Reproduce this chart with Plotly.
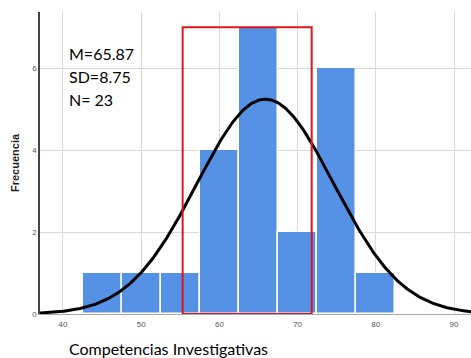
import numpy as np
import plotly.graph_objects as go

# Histogram of scores (bin width 5) with fitted normal curve
bin_centers = [45, 50, 55, 60, 65, 70, 75, 80]
frequencies = [1, 1, 1, 4, 7, 2, 6, 1]
bin_width = 5
mean, sd, n = 65.87, 8.75, 23
x_ticks = [40, 50, 60, 70, 80, 90]
y_ticks = [0, 2, 4, 6]
highlight_range = [55.3, 71.8]

W, H = 471, 358
ml, mr, mt, mb = 40, 0, 12, 44
x_range = [37.06, 92.17]
y_range = [0, 7.37]

xs = np.linspace(x_range[0], x_range[1], 400)
ys = n * bin_width / (sd * np.sqrt(2 * np.pi)) * np.exp(-0.5 * ((xs - mean) / sd) ** 2)

fig = go.Figure()
fig.add_trace(go.Bar(
    x=bin_centers, y=frequencies, width=[bin_width] * len(bin_centers),
    marker=dict(color="#5591e4", line=dict(color="white", width=1.5)),
    hoverinfo="skip",
))
fig.add_trace(go.Scatter(
    x=xs, y=ys, mode="lines", line=dict(color="black", width=3),
    hoverinfo="skip",
))

# red highlight box around the central bins
fig.add_shape(
    type="rect", xref="x", yref="y",
    x0=highlight_range[0], x1=highlight_range[1], y0=0, y1=max(frequencies),
    line=dict(color="#e0161e", width=2), layer="above",
)

text_font = "Lato, Open Sans, sans-serif"
stats_lines = [f"M={mean}", f"SD={sd}", f"N= {n}"]
for i, txt in enumerate(stats_lines):
    fig.add_annotation(
        xref="paper", yref="paper", x=(67 - ml) / (W - ml - mr),
        y=1 - (53 + 23 * i - mt) / (H - mt - mb),
        text=txt, showarrow=False, xanchor="left", yanchor="middle",
        font=dict(family=text_font, size=16, color="black"),
    )

fig.add_annotation(
    xref="paper", yref="paper", x=(15 - ml) / (W - ml - mr),
    y=1 - (163 - mt) / (H - mt - mb),
    text="<b>Frecuencia</b>", textangle=-90, showarrow=False,
    xanchor="center", yanchor="middle",
    font=dict(family="Liberation Sans, Arial, sans-serif", size=11, color="#222"),
)
fig.add_annotation(
    xref="paper", yref="paper", x=(67 - ml) / (W - ml - mr),
    y=-(348 - (H - mb)) / (H - mt - mb),
    text="Competencias Investigativas", showarrow=False,
    xanchor="left", yanchor="middle",
    font=dict(family=text_font, size=16, color="black"),
)

tick_font = dict(family="Liberation Sans, Arial, sans-serif", size=8, color="#555")
fig.update_layout(
    width=W, height=H,
    margin=dict(l=ml, r=mr, t=mt, b=mb),
    paper_bgcolor="white", plot_bgcolor="white",
    showlegend=False, bargap=0,
    xaxis=dict(
        range=x_range, tickvals=x_ticks, tickfont=tick_font,
        showgrid=True, gridcolor="#d9d9d9", gridwidth=1,
        showline=True, linecolor="#aaaaaa", linewidth=1,
        zeroline=False, ticks="", ticklabelstandoff=2,
    ),
    yaxis=dict(
        range=y_range, tickvals=y_ticks, tickfont=tick_font,
        showgrid=True, gridcolor="#d9d9d9", gridwidth=1,
        showline=True, linecolor="#444444", linewidth=1.5,
        zeroline=False, ticks="",
    ),
)

fig.write_html("out.html")
